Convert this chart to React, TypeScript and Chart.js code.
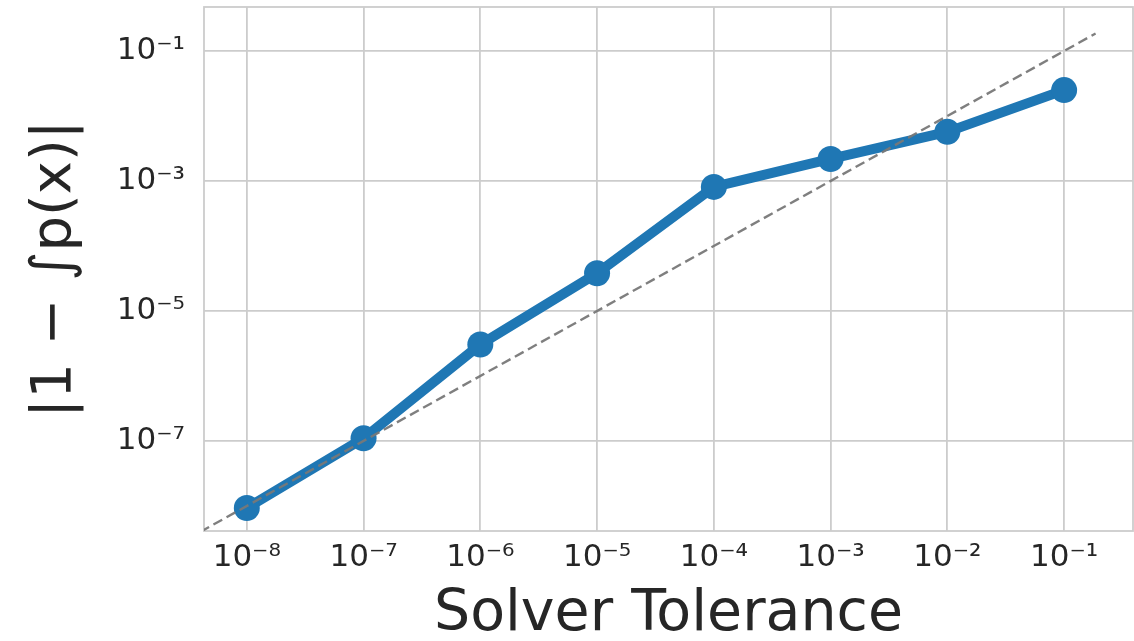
import React, { useEffect, useRef } from "react";
import { Chart, registerables } from "chart.js";

Chart.register(...registerables);

// ---- data ----
const tolerances = [1e-8, 1e-7, 1e-6, 1e-5, 1e-4, 1e-3, 1e-2, 1e-1];
const errors = [9.3e-9, 1.1e-7, 3.05e-6, 3.8e-5, 8.1e-4, 2.18e-3, 5.7e-3, 2.5e-2];
const refX = [4.0e-9, 0.186];
const refY = [4.0e-9, 0.186];
const xTickValues = [1e-8, 1e-7, 1e-6, 1e-5, 1e-4, 1e-3, 1e-2, 1e-1];
const xTickLabels = ["10⁻⁸", "10⁻⁷", "10⁻⁶", "10⁻⁵", "10⁻⁴", "10⁻³", "10⁻²", "10⁻¹"];
const yTickValues = [1e-7, 1e-5, 1e-3, 1e-1];
const yTickLabels = ["10⁻⁷", "10⁻⁵", "10⁻³", "10⁻¹"];
const xTitle = "Solver Tolerance";
const yTitle = "|1 − ∫p(x)|";
const xRange = [4.3e-9, 0.389];
const yRange = [4.12e-9, 0.475];

const GRID = "#cccccc";
const TEXT = "#262626";
const BLUE = "#1f77b4";

const frame = {
  id: "frame",
  beforeDatasetsDraw(chart: any) {
    const { ctx, chartArea: a } = chart;
    ctx.save();
    ctx.strokeStyle = GRID;
    ctx.lineWidth = 1.8;
    ctx.strokeRect(a.left, a.top, a.right - a.left, a.bottom - a.top);
    ctx.restore();
  },
};

export default function App() {
  const ref = useRef<HTMLCanvasElement>(null);
  useEffect(() => {
    if (!ref.current) return;
    Chart.defaults.font.family = "'DejaVu Sans', sans-serif";
    const chart = new Chart(ref.current, {
      type: "line",
      data: {
        datasets: [
          {
            label: "reference",
            data: refX.map((x, i) => ({ x, y: refY[i] })),
            borderColor: "rgba(120,120,120,0.95)",
            borderWidth: 2.4,
            borderDash: [10, 5],
            pointRadius: 0,
            fill: false,
            order: 0,
          },
          {
            label: "error",
            data: tolerances.map((x, i) => ({ x, y: errors[i] })),
            borderColor: BLUE,
            backgroundColor: BLUE,
            borderWidth: 10,
            pointRadius: 13,
            pointBorderWidth: 0,
            pointBackgroundColor: BLUE,
            borderJoinStyle: "round",
            fill: false,
            order: 1,
          },
        ],
      },
      options: {
        responsive: false,
        animation: false,
        devicePixelRatio: 1,
        layout: { autoPadding: false, padding: { top: 7, right: 1, left: 0, bottom: 0 } },
        plugins: { legend: { display: false }, tooltip: { enabled: false } },
        scales: {
          x: {
            type: "logarithmic",
            min: xRange[0],
            max: xRange[1],
            afterBuildTicks: (s: any) => {
              s.ticks = xTickValues.map((v) => ({ value: v }));
            },
            afterFit: (s: any) => {
              s.height = 110;
              s.paddingLeft = 0;
              s.paddingRight = 0;
            },
            border: { display: false },
            grid: { color: GRID, lineWidth: 1.8, drawTicks: false },
            ticks: {
              autoSkip: false,
              maxRotation: 0,
              padding: 8,
              color: TEXT,
              font: { size: 31 },
              callback: (_v: any, i: number) => xTickLabels[i],
            },
            title: {
              display: true,
              text: xTitle,
              color: TEXT,
              font: { size: 57, lineHeight: 1 },
              padding: { top: 0, bottom: -3 },
            },
          },
          y: {
            type: "logarithmic",
            min: yRange[0],
            max: yRange[1],
            afterBuildTicks: (s: any) => {
              s.ticks = yTickValues.map((v) => ({ value: v }));
            },
            afterFit: (s: any) => {
              s.width = 204;
              s.paddingTop = 0;
              s.paddingBottom = 0;
            },
            border: { display: false },
            grid: { color: GRID, lineWidth: 1.8, drawTicks: false },
            ticks: {
              autoSkip: false,
              padding: 19,
              color: TEXT,
              font: { size: 31 },
              callback: (_v: any, i: number) => yTickLabels[i],
            },
            title: {
              display: true,
              text: yTitle,
              color: TEXT,
              font: { size: 56, lineHeight: 1 },
              padding: { top: 27, bottom: 0 },
            },
          },
        },
      },
      plugins: [frame],
    });
    return () => chart.destroy();
  }, []);
  return (
    <div style={{ position: "absolute", left: 0, top: 0, width: 1134, height: 641, background: "#fff" }}>
      <canvas ref={ref} width={1134} height={641} />
    </div>
  );
}
